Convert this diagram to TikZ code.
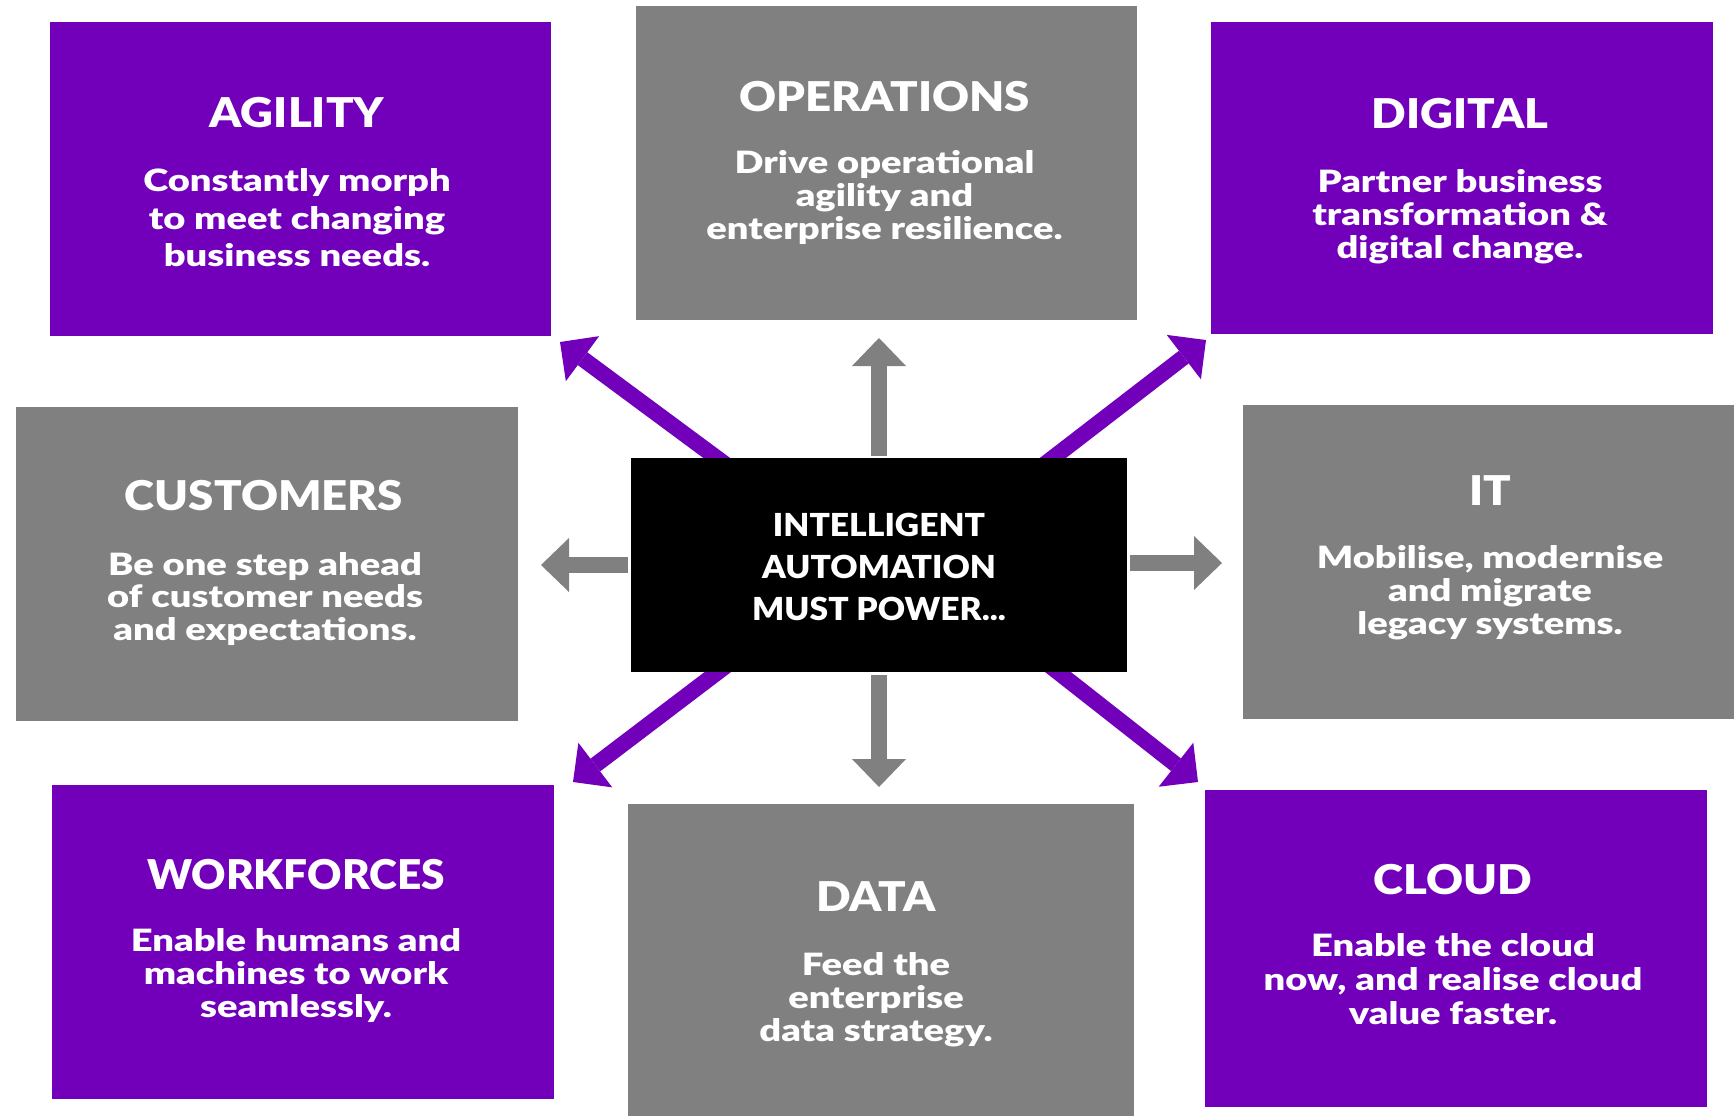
\documentclass[tikz,border=0pt]{standalone}
\usepackage{fontspec}
\usepackage{graphicx}
\setmainfont{Lato}
\newfontfamily\headfont{Lato Black}[FakeStretch=1.11]
\newfontfamily\centerfont{Lato Black}[FakeStretch=1.06]
\newfontfamily\bodyfont{Lato Black}[FakeStretch=1.24]
\usetikzlibrary{arrows.meta}
\definecolor{apurple}{HTML}{7200BA}
\definecolor{agray}{HTML}{808080}
\newcommand\bodylines[2]{{\bodyfont\fontsize{30.7}{#1}\selectfont\begin{tabular}[t]{@{}c@{}}#2\end{tabular}}}
\begin{document}
\begin{tikzpicture}[x=1pt,y=-1pt,
  dims/.style args={#1x#2}{minimum width=#1pt,minimum height=#2pt},
  pbox/.style={fill=apurple,draw=none,inner sep=0pt},
  gbox/.style={fill=agray,draw=none,inner sep=0pt},
  cbox/.style={fill=black,draw=none,inner sep=0pt},
  headtxt/.style={text=white,anchor=base,inner sep=0pt,font=\headfont\fontsize{41}{41}\selectfont},
  bodytxt/.style={text=white,anchor=base,inner sep=0pt},
  centertxt/.style={text=white,anchor=base,inner sep=0pt,font=\centerfont},
  parrow/.style={draw=apurple,line width=16pt,-{Triangle[length=28pt,width=56pt,line width=0pt]}},
  garrow/.style={draw=agray,line width=16pt,-{Triangle[length=28pt,width=54pt,line width=0pt]}}]
\useasboundingbox (0,0) rectangle (1734,1116);

% arrow end points
\coordinate (tipUL) at (560,342);
\coordinate (tipUR) at (1206,340);
\coordinate (tipLL) at (573,782);
\coordinate (tipLR) at (1198,782);
\coordinate (tipU) at (879,338);
\coordinate (tipD) at (879,787);
\coordinate (tipL) at (541,565);
\coordinate (tipR) at (1222,563);
\coordinate (sUL) at (760,490);
\coordinate (sUR) at (1010,491);
\coordinate (sLL) at (756,643);
\coordinate (sLR) at (1021,643);

% diagonal arrows (behind centre box)
\draw[parrow] (sUL) -- (tipUL);
\draw[parrow] (sUR) -- (tipUR);
\draw[parrow] (sLL) -- (tipLL);
\draw[parrow] (sLR) -- (tipLR);

% boxes
\node[pbox,dims=501x314] (agility) at (300.5,179) {};
\node[gbox,dims=501x314] (operations) at (886.5,163) {};
\node[pbox,dims=502x311] (digital) at (1462,178) {};
\node[gbox,dims=502x314] (customers) at (267,564) {};
\node[cbox,dims=496x214] (c) at (879,565) {};
\node[gbox,dims=491x314] (it) at (1488.5,562) {};
\node[pbox,dims=502x314] (workforces) at (302.8,942) {};
\node[gbox,dims=506x312] (data) at (881,960) {};
\node[pbox,dims=502x317] (cloud) at (1456,948) {};

% straight arrows
\draw[garrow] ([yshift=2pt]c.north) -- (tipU);
\draw[garrow] ([yshift=-3pt]c.south) -- (tipD);
\draw[garrow] ([xshift=-2.5pt]c.west) -- (tipL);
\draw[garrow] (c.east |- tipR) ++(3,0) -- (tipR);

% texts
\node[centertxt] (cT) at (879,536) {{\fontsize{31.7}{42.3}\selectfont\begin{tabular}[t]{@{}c@{}}INTELLIGENT\\AUTOMATION\\MUST POWER...\end{tabular}}};

\node[headtxt] (agilityT) at (297,127.7) {AGILITY};
\node[bodytxt] (agilityB) at (297,191.7) {\bodylines{37.5}{Constantly morph\\to meet changing\\business needs.}};

\node[headtxt] (operationsT) at (884.5,111) {OPERATIONS};
\node[bodytxt] (operationsB) at (884.5,173.3) {\bodylines{33.3}{Drive operational\\agility and\\enterprise resilience.}};

\node[headtxt] (digitalT) at (1460,128.3) {DIGITAL};
\node[bodytxt] (digitalB) at (1460,192.7) {\bodylines{32.8}{Partner business\\transformation \&\\digital change.}};

\node[headtxt] (customersT) at (264,510.7) {CUSTOMERS};
\node[bodytxt] (customersB) at (265,575) {\bodylines{32.5}{Be one step ahead\\of customer needs\\and expectations.}};

\node[headtxt] (itT) at (1490,505.7) {IT};
\node[bodytxt] (itB) at (1490,568.3) {\bodylines{33.3}{Mobilise, modernise\\and migrate\\legacy systems.}};

\node[headtxt] (workforcesT) at (296,889) {\scalebox{0.93}[1]{WORKFORCES}};
\node[bodytxt] (workforcesB) at (296,951.7) {\bodylines{33}{Enable humans and\\machines to work\\seamlessly.}};

\node[headtxt] (dataT) at (876,911.7) {DATA};
\node[bodytxt] (dataB) at (876,975) {\bodylines{33.3}{Feed the\\enterprise\\data strategy.}};

\node[headtxt] (cloudT) at (1453,894.3) {CLOUD};
\node[bodytxt] (cloudB) at (1453,956.7) {\bodylines{33.8}{Enable the cloud\\now, and realise cloud\\value faster.}};
\end{tikzpicture}
\end{document}
